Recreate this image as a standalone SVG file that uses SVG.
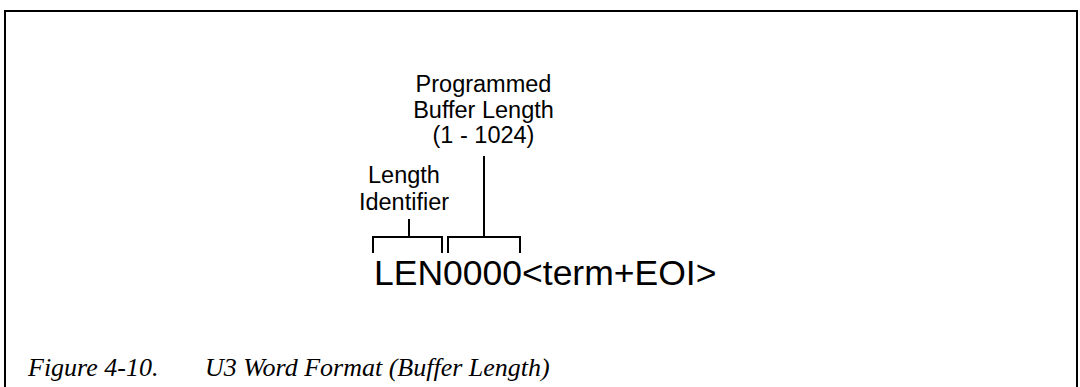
<svg xmlns="http://www.w3.org/2000/svg" width="1080" height="387" viewBox="0 0 1080 387">
<style>
.lbl{font-family:"Liberation Sans",Arial,sans-serif;font-size:23.5px;fill:#000;text-anchor:middle}
.main{font-family:"Liberation Sans",Arial,sans-serif;font-size:35.5px;fill:#000}
.cap{font-family:"Liberation Serif","Times New Roman",serif;font-style:italic;font-size:26px;fill:#000}
.ln{stroke:#000;stroke-width:2;fill:none}
</style>
<rect width="1080" height="387" fill="#fff"/>
<g id="frame">
<path class="ln" d="M5,387 V11 H1077 V387" stroke-width="2.5"/>
</g>
<g id="programmed-buffer-length">
<text class="lbl" x="483.5" y="92">Programmed</text>
<text class="lbl" x="483.5" y="118">Buffer Length</text>
<text class="lbl" x="483.5" y="143">(1 - 1024)</text>
</g>
<g id="length-identifier">
<text class="lbl" x="404" y="183">Length</text>
<text class="lbl" x="404" y="210">Identifier</text>
</g>
<g id="word">
<text class="main" x="374" y="285">LEN0000&lt;term+EOI&gt;</text>
</g>
<g id="connectors">
<path class="ln" d="M373,253 V237 H442 V253"/>
<path class="ln" d="M409,219 V237"/>
<path class="ln" d="M448,253 V237 H520 V253"/>
<path class="ln" d="M484,156 V237"/>
</g>
<g id="caption">
<text class="cap" x="28" y="376">Figure 4-10.</text>
<text class="cap" x="205" y="376">U3 Word Format (Buffer Length)</text>
</g>
</svg>
